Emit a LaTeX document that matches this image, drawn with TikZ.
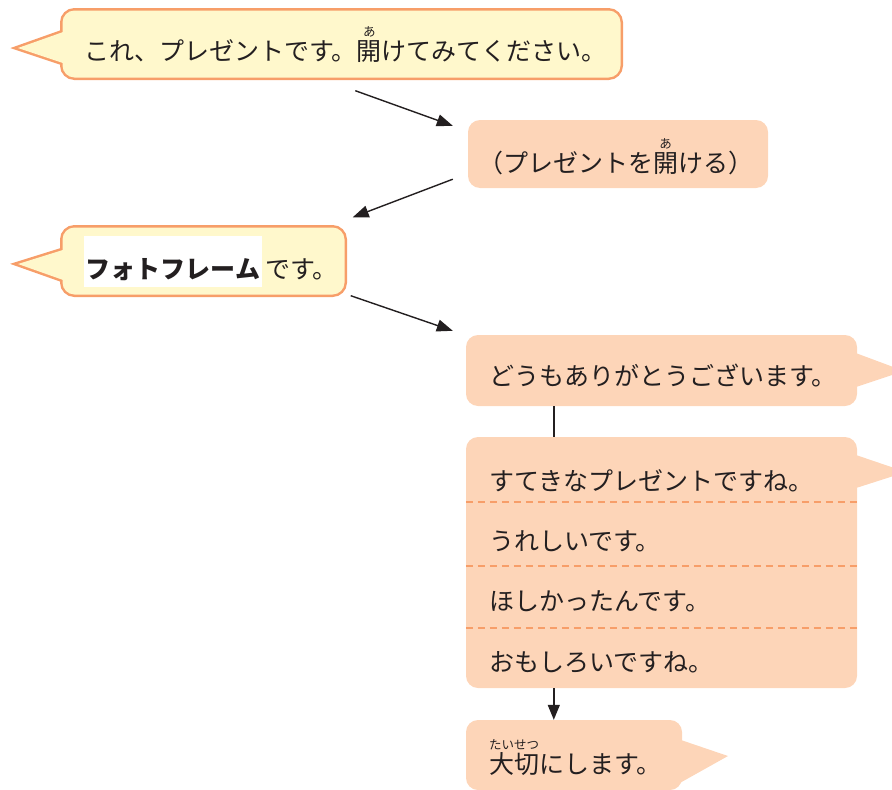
\documentclass[tikz,border=0pt]{standalone}
\usepackage{fontspec}
\setmainfont{Noto Sans CJK JP}
\usepackage{xcolor}
\usepackage{tikz}
\usetikzlibrary{arrows.meta}

\definecolor{bubbleyellow}{HTML}{FFF8CC}
\definecolor{bubbleorange}{HTML}{F79E69}
\definecolor{boxpeach}{HTML}{FDD5B8}
\definecolor{inkgray}{HTML}{231F20}

% small reading above a word
\newcommand{\furi}[2]{\leavevmode\setbox0=\hbox{#1}%
  \rlap{\hbox to \wd0{\hss\raisebox{0.93em}{\fontsize{12.5}{12.5}\selectfont #2}\hss}}\box0}

\begin{document}
\begin{tikzpicture}[x=1pt,y=-1pt,%
% common options for the bubbles:
yellowbubble/.style = {rectangle, rounded corners=12pt, fill=bubbleyellow,
            preaction={draw=bubbleorange, line width=5pt}, inner sep=0},
peachbox/.style = {rectangle, rounded corners=12pt, fill=boxpeach, inner sep=0},
% common options for the texts:
txt/.style = {anchor=base west, inner sep=0, text=inkgray,
            font=\fontsize{25}{30}\selectfont},
framelabel/.style = {anchor=base, inner sep=0, fill=white, text=inkgray,
            minimum width=178pt, text height=42pt, text depth=9pt,
            font=\fontsize{25}{30}\selectfont\bfseries},
% common options for the lines:
conn/.style = {draw=inkgray, line width=1.4pt},
dashsep/.style = {draw=bubbleorange, line width=2pt, dash pattern=on 7pt off 5pt}]
\clip (0,0) rectangle (892,790);
% tails of the yellow bubbles, border first
\draw[bubbleorange, line width=5pt] (18,48) -- (66,31) -- (66,64) -- cycle;
\draw[bubbleorange, line width=5pt] (18,264) -- (66,249) -- (66,281) -- cycle;
\node[yellowbubble, minimum width=558pt, minimum height=67pt] (b1) at (341.5,44) {};
\node[yellowbubble, minimum width=282pt, minimum height=67pt] (b3) at (203.5,261) {};
\fill[bubbleyellow] (18,48) -- (66,31) -- (66,64) -- cycle;
\fill[bubbleyellow] (18,264) -- (66,249) -- (66,281) -- cycle;
% peach boxes
\node[peachbox, minimum width=300pt, minimum height=68pt] (b2) at (618,154) {};
\node[peachbox, minimum width=391pt, minimum height=71pt] (b4) at (661.5,370.5) {};
\node[peachbox, minimum width=391pt, minimum height=251pt] (b5) at (661.5,562.5) {};
\node[peachbox, minimum width=216pt, minimum height=70pt] (b6) at (574,755) {};
\fill[boxpeach] (853,352) -- (904,371) -- (853,388) -- cycle;
\fill[boxpeach] (853,454) -- (906,472) -- (853,489) -- cycle;
\fill[boxpeach] (678,739) -- (728,756) -- (678,784) -- cycle;
\draw[dashsep] (b5.west |- 0,502) -- (b5.east |- 0,502);
\draw[dashsep] (b5.west |- 0,566) -- (b5.east |- 0,566);
\draw[dashsep] (b5.west |- 0,628) -- (b5.east |- 0,628);
% texts
\node[txt] (t1) at (84,60) {これ、プレゼントです。\furi{開}{あ}けてみてください。};
\node[txt] (t2) at (478,172) {（プレゼントを\furi{開}{あ}ける）};
\node[framelabel] (t3a) at (173,278) {フォトフレーム};
\node[txt] (t3b) at (265,278) {です。};
\node[txt] (t4) at (489,385) {どうもありがとうございます。};
\node[txt] (r1) at (489,490) {すてきなプレゼントですね。};
\node[txt] (r2) at (489,550) {うれしいです。};
\node[txt] (r3) at (489,610) {ほしかったんです。};
\node[txt] (r4) at (489,671) {おもしろいですね。};
\node[txt] (t6) at (489,773) {\furi{大切}{たいせつ}にします。};
% connectors
\draw[conn, -{Triangle[length=16pt,width=12pt]}] ([xshift=293pt,yshift=-13pt]b1.south west) -- ([xshift=-15pt,yshift=-6pt]b2.north west);
\draw[conn, -{Triangle[length=16pt,width=12pt]}] ([xshift=-15pt,yshift=9pt]b2.south west) -- ([xshift=8pt,yshift=10pt]b3.north east);
\draw[conn, -{Triangle[length=16pt,width=12pt]}] ([xshift=6pt,yshift=-1pt]b3.south east) -- ([xshift=-13pt,yshift=4pt]b4.north west);
\draw[conn] ([xshift=88pt]b4.south west) -- ([xshift=88pt]b5.north west);
\draw[conn, -{Triangle[length=15pt,width=12pt]}] ([xshift=88pt]b5.south west) -- ([xshift=88pt]b6.north west);
\end{tikzpicture}
\end{document}
